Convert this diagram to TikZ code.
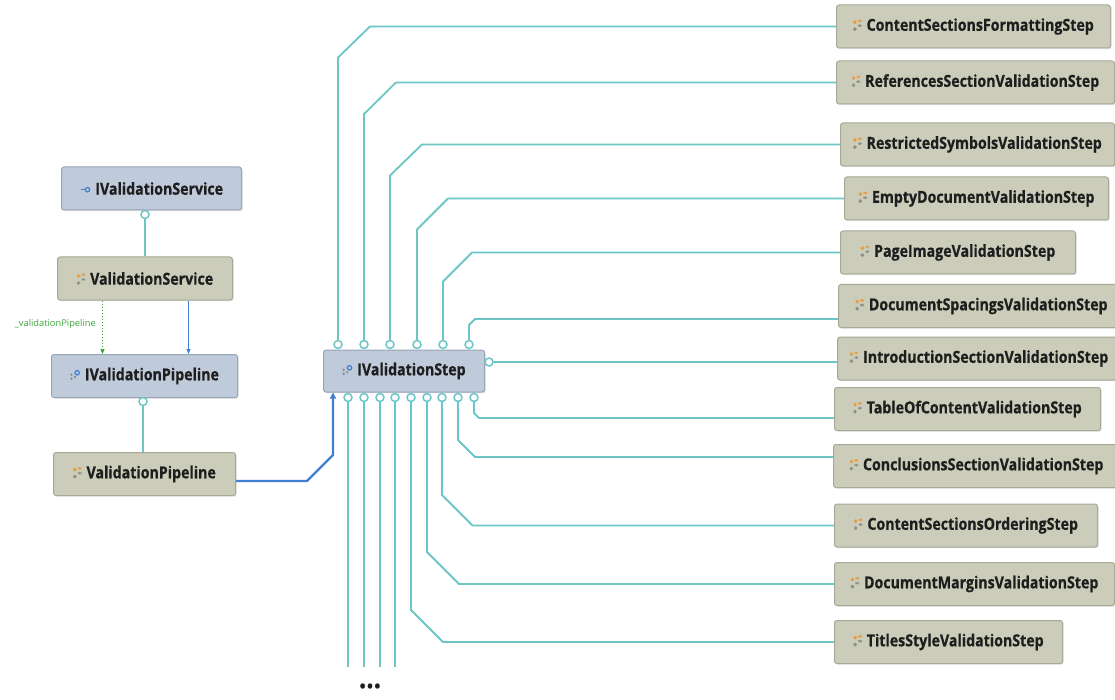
\documentclass[tikz,border=0pt]{standalone}
\usepackage{fontspec}
\newfontfamily\nodefam{Open Sans}[FakeStretch=0.86,FakeBold=0.7]
\newfontfamily\labfam{Open Sans}
\usetikzlibrary{arrows.meta,shadows}
\definecolor{ifacefill}{HTML}{BFCADA}
\definecolor{ifacedraw}{HTML}{98A5B6}
\definecolor{clsfill}{HTML}{CBCDBA}
\definecolor{clsdraw}{HTML}{A6A994}
\definecolor{tealc}{HTML}{6CC6C6}
\definecolor{bluec}{HTML}{3F80D2}
\definecolor{greenc}{HTML}{3CA83C}
\definecolor{iconorange}{HTML}{E89A3C}
\definecolor{icongray}{HTML}{8A8A8A}
\definecolor{txt}{HTML}{1E1E1E}
\newcommand\clsicon{\tikz[x=1pt,y=1pt,baseline=0pt]{%
 \fill[iconorange] (0,7) rectangle (3.4,10.4);
 \fill[iconorange] (4.8,8.6) rectangle (8.4,11.2);
 \fill[icongray] (0,0) rectangle (3.4,3.4);
 \fill[icongray] (4.8,4) rectangle (8.4,6.4);}}
\newcommand\ifaceicon{\tikz[x=1pt,y=1pt,baseline=0pt]{%
 \draw[bluec,line width=1.2pt] (0,5) -- (4.5,5);
 \draw[bluec,line width=1.2pt] (7,5) circle (2.2);}}
\newcommand\ifacedots{\tikz[x=1pt,y=1pt,baseline=0pt]{%
 \fill[icongray] (1.2,1.5) circle (1.3);
 \fill[icongray] (1.2,5.5) circle (1.3);
 \fill[icongray] (4.8,3.2) circle (1.3);
 \draw[bluec,line width=1.2pt] (7,7.5) circle (2.2);}}
\newcommand\lab[2]{#1\hspace{5pt}#2}
\tikzset{
 box/.style={rounded corners=2.5pt, line width=1pt, minimum height=43pt, inner sep=0pt,
   text=txt, anchor=west, font=\nodefam\bfseries\fontsize{16.5}{18}\selectfont,
   drop shadow={shadow xshift=1.2pt, shadow yshift=-1.2pt, opacity=0.2, fill=black!60}},
 iface/.style={box, draw=ifacedraw, fill=ifacefill},
 cls/.style={box, draw=clsdraw, fill=clsfill},
 conn/.style={draw=tealc, line width=1.8pt},
 lolli/.style={circle, draw=tealc, line width=1.5pt, fill=white, minimum size=8pt, inner sep=0pt},
 thinblue/.style={draw=bluec, line width=1pt, -{Triangle[length=5pt,width=4pt]}},
 greendot/.style={draw=greenc, line width=1pt, dotted, -{Triangle[length=5pt,width=4pt]}},
 thickblue/.style={draw=bluec, line width=2.2pt, -{Triangle[length=6pt,width=6pt]}},
}
\begin{document}
\begin{tikzpicture}[x=1pt,y=-1pt]
\fill[white] (0,0) rectangle (1115,700);
\useasboundingbox (0,0) rectangle (1115,700);

% left nodes
\node[iface, minimum width=180pt] (ivs) at (61,188.5) {\lab{\ifaceicon}{IValidationService}};
\node[cls, minimum width=175pt] (vs) at (57,278.5) {\lab{\clsicon}{ValidationService}};
\node[iface, minimum width=186pt] (ivp) at (51,376) {\lab{\ifacedots}{IValidationPipeline}};
\node[cls, minimum width=182pt] (vp) at (53,474) {\lab{\clsicon}{ValidationPipeline}};

% central node
\node[iface, minimum width=161pt, minimum height=42pt] (step) at (323,371) {\lab{\ifacedots}{IValidationStep}};

% right nodes
\node[cls, minimum width=274pt] (csf) at (836,26.5) {\lab{\clsicon}{ContentSectionsFormattingStep}};
\node[cls, minimum width=278pt] (rsv) at (836,82.5) {\lab{\clsicon}{ReferencesSectionValidationStep}};
\node[cls, minimum width=274pt] (rsym) at (840,144.5) {\lab{\clsicon}{RestrictedSymbolsValidationStep}};
\node[cls, minimum width=264pt] (edv) at (844,198.5) {\lab{\clsicon}{EmptyDocumentValidationStep}};
\node[cls, minimum width=235pt] (piv) at (840,252.5) {\lab{\clsicon}{PageImageValidationStep}};
\node[cls, minimum width=286pt] (dsv) at (838,306) {\lab{\clsicon}{DocumentSpacingsValidationStep}};
\node[cls, minimum width=283pt] (isv) at (837,358.5) {\lab{\clsicon}{IntroductionSectionValidationStep}};
\node[cls, minimum width=266pt] (toc) at (834,409) {\lab{\clsicon}{TableOfContentValidationStep}};
\node[cls, minimum width=286pt] (csv) at (833,466) {\lab{\clsicon}{ConclusionsSectionValidationStep}};
\node[cls, minimum width=263pt] (cso) at (834,525.5) {\lab{\clsicon}{ContentSectionsOrderingStep}};
\node[cls, minimum width=280pt] (dmv) at (834,584) {\lab{\clsicon}{DocumentMarginsValidationStep}};
\node[cls, minimum width=228pt] (tsv) at (834,642) {\lab{\clsicon}{TitlesStyleValidationStep}};

% left connectors
\node[lolli] (c1) at (145,214.5) {};
\draw[conn] (vs.north -| c1) -- (c1.south);
\node[lolli] (c2) at (143,401.5) {};
\draw[conn] (vp.north -| c2) -- (c2.south);
\draw[thinblue] ([xshift=43.5pt]vs.south) -- ([xshift=43.5pt]vs.south |- ivp.north);
\draw[greendot] ([xshift=-42.5pt]vs.south) -- ([xshift=-42.5pt]vs.south |- ivp.north);
\node[anchor=east, inner sep=0pt, text=greenc, font=\labfam\fontsize{9.3}{10}\selectfont] (lbl) at (96,324) {\_validationPipeline};
\draw[thickblue] ([yshift=-7pt]vp.east) -- (307,481) -- (333,455) -- ([xshift=10pt]step.south west);

% top connectors
\draw[conn] (338,345) -- (338,57.5) -- (370,26.5) -- (csf.west);
\draw[conn] (364,345) -- (364,114) -- (396,82.5) -- (rsv.west);
\draw[conn] (390,345) -- (390,175.5) -- (422,144.5) -- (rsym.west);
\draw[conn] (417,345) -- (417,229.5) -- (448,198.5) -- (edv.west);
\draw[conn] (443,345) -- (443,281.5) -- (472,252.5) -- (piv.west);
\draw[conn] (469,345) -- (469,325) -- (475,319) -- ([yshift=-13pt]dsv.west);
\foreach \x/\n in {338/t1,364/t2,390/t3,417/t4,443/t5,469/t6}
  \node[lolli] (\n) at (\x,344.5) {};

% right connector
\node[lolli] (rc) at (489,362) {};
\draw[conn] (rc.east) -- (rc.east -| isv.west);

% bottom connectors
\coordinate (e1) at (348,667);
\coordinate (e2) at (364,667);
\coordinate (e3) at (380,667);
\coordinate (e4) at (395,667);
\draw[conn] (348,397) -- (e1);
\draw[conn] (364,397) -- (e2);
\draw[conn] (380,397) -- (e3);
\draw[conn] (395,397) -- (e4);
\draw[conn] (411,397) -- (411,610) -- (443,642) -- (tsv.west);
\draw[conn] (427,397) -- (427,552) -- (459,584) -- (dmv.west);
\draw[conn] (442,397) -- (442,495) -- (472.5,525.5) -- (cso.west);
\draw[conn] (458,397) -- (458,440) -- (475,457) -- ([yshift=9pt]csv.west);
\draw[conn] (474,397) -- (474,413) -- (479,418) -- ([yshift=-9pt]toc.west);
\foreach \x/\n in {348/b1,364/b2,380/b3,395/b4,411/b5,427/b6,442/b7,458/b8,474/b9}
  \node[lolli] (\n) at (\x,397.5) {};

\node[font=\nodefam\bfseries\fontsize{30}{32}\selectfont, text=txt] (dots) at (370,686) {...};
\end{tikzpicture}
\end{document}
